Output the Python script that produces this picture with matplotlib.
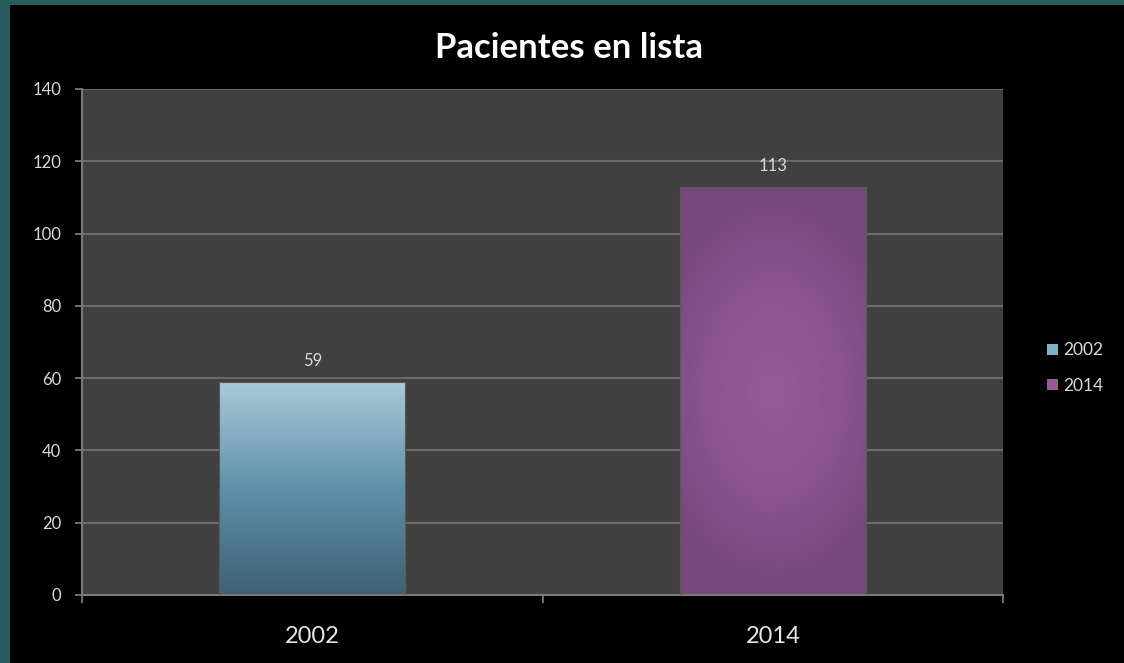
import numpy as np
import matplotlib
matplotlib.use("Agg")
import matplotlib.pyplot as plt
from matplotlib.colors import LinearSegmentedColormap
from matplotlib.patches import Rectangle, Patch

# Datos
categorias = ["2002", "2014"]
pacientes = [59, 113]
ticks_y = [0, 20, 40, 60, 80, 100, 120, 140]

plt.rcParams['font.family'] = ['Lato', 'DejaVu Sans']

fig = plt.figure(figsize=(11.24, 6.63), dpi=100, facecolor="black")

# marco verde azulado del fondo
fig.patches.append(Rectangle((0, 0), 10 / 1124, 1, transform=fig.transFigure,
                             facecolor="#2a5d60", edgecolor="none", zorder=0))
fig.patches.append(Rectangle((0, 1 - 5 / 663), 1, 5 / 663, transform=fig.transFigure,
                             facecolor="#2a5d60", edgecolor="none", zorder=0))

ax = fig.add_axes([0.073, 0.1026, 0.8194, 0.7632])
ax.set_facecolor("#404040")

x = np.arange(len(categorias))
ancho = 0.404
barras = ax.bar(x, pacientes, width=ancho, color="none",
                edgecolor="#5a5a5a", linewidth=0.8, zorder=3)

# degradado vertical azul para 2002
cmap_azul = LinearSegmentedColormap.from_list("azul", ["#3e6074", "#5f91aa", "#aacada"])
b0 = barras[0]
grad = np.linspace(0, 1, 256).reshape(-1, 1)
im = ax.imshow(grad, cmap=cmap_azul, origin="lower", aspect="auto",
               extent=[b0.get_x(), b0.get_x() + b0.get_width(), 0, b0.get_height()],
               zorder=2)
im.set_clip_path(b0)

# degradado radial morado para 2014
cmap_morado = LinearSegmentedColormap.from_list("morado", ["#955b96", "#8a5490", "#76487b"])
b1 = barras[1]
yy, xx = np.mgrid[-1:1:300j, -1:1:200j]
r = np.sqrt(0.5 * xx ** 2 + yy ** 2)
im2 = ax.imshow(np.clip(r, 0, 1), cmap=cmap_morado, origin="lower", aspect="auto",
                extent=[b1.get_x(), b1.get_x() + b1.get_width(), 0, b1.get_height()],
                zorder=2)
im2.set_clip_path(b1)

# etiquetas de valor
for xi, v in zip(x, pacientes):
    ax.text(xi, v + 3.5, str(v), ha="center", va="bottom", color="#d9d9d9", fontsize=12)

ax.set_xlim(-0.5, 1.5)
ax.set_ylim(0, 140)
ax.set_yticks(ticks_y)
ax.set_yticklabels([str(t) for t in ticks_y], color="#d9d9d9", fontsize=12)
ax.set_xticks(x)
ax.set_xticklabels(categorias, color="#e6e6e6", fontsize=17)
ax.set_xticks([-0.5, 0.5, 1.5], minor=True)
ax.tick_params(axis="x", which="major", length=0, pad=22)
ax.tick_params(axis="x", which="minor", length=6, color="#808080", width=1.2, direction="out")
ax.tick_params(axis="y", length=5, color="#808080", width=1.2, pad=10)

ax.grid(axis="y", color="#6a6a6a", linewidth=1.5, zorder=1)
ax.set_axisbelow(True)
for lado in ["top", "right"]:
    ax.spines[lado].set_visible(False)
ax.spines["left"].set_color("#7a7a7a")
ax.spines["left"].set_linewidth(1.5)
ax.spines["bottom"].set_color("#7a7a7a")
ax.spines["bottom"].set_linewidth(1.5)

fig.text(0.506, 0.927, "Pacientes en lista", ha="center", va="center",
         color="white", fontsize=25, fontweight="bold")

manejadores = [Patch(facecolor="#7fb0c8", edgecolor="none"),
               Patch(facecolor="#985a99", edgecolor="none")]
fig.legend(manejadores, categorias, loc="center left", bbox_to_anchor=(0.918, 0.445),
           frameon=False, fontsize=12.5, labelcolor="#d9d9d9",
           handlelength=0.6, handleheight=0.6, handletextpad=0.3, labelspacing=1.1)

fig.savefig("out.png", dpi=100, facecolor=fig.get_facecolor())
